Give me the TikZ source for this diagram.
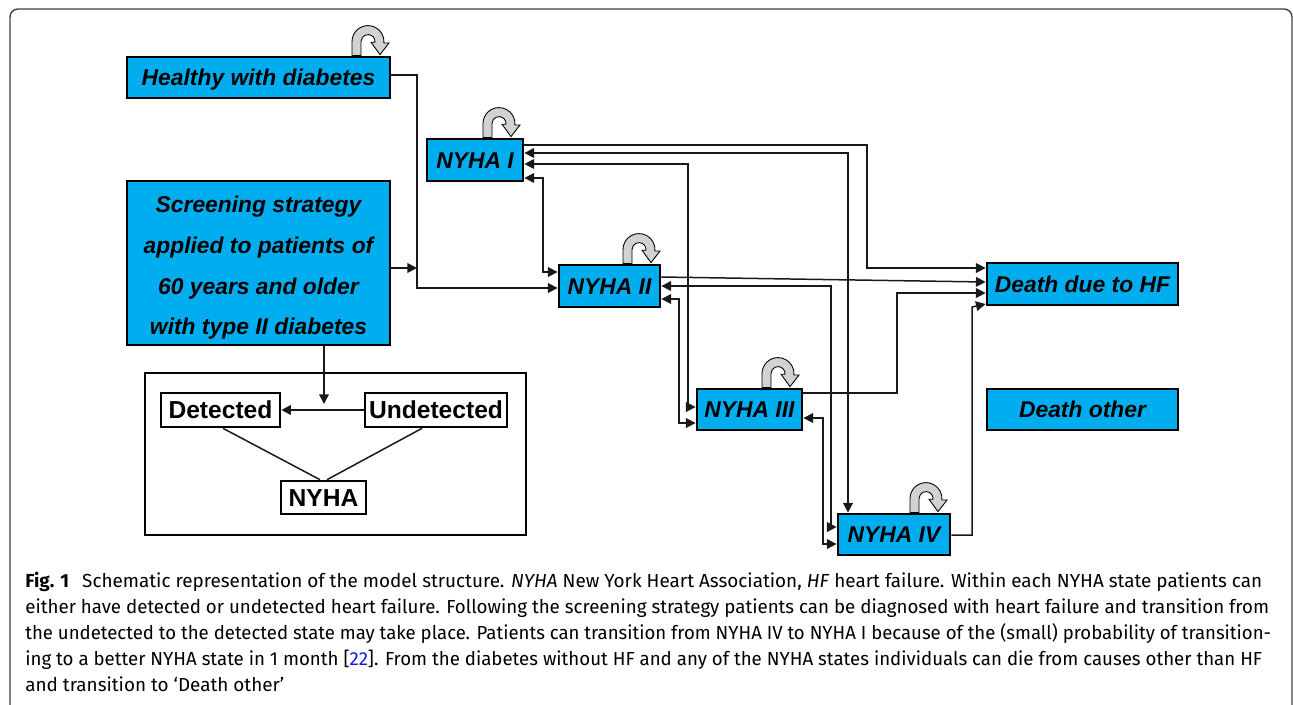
\documentclass[tikz,border=0pt]{standalone}
\usepackage{fontspec}
\usepackage{graphicx}
\setmainfont{Liberation Sans}
\newfontfamily\legende{Fira Sans}
\usetikzlibrary{arrows.meta,positioning}
\definecolor{bleuetat}{RGB}{0,174,239}
\definecolor{renvoi}{RGB}{20,20,230}
\tikzstyle{etat} = [draw, fill=bleuetat, line width=1.6pt, inner sep=0pt, font=\fontsize{13}{15}\selectfont\bfseries\itshape]
\tikzstyle{simple} = [etat, text height=9.4pt, text depth=0pt]
\tikzstyle{sousetat} = [draw, fill=white, line width=1.5pt, inner sep=0pt, text height=10pt, text depth=0pt, font=\fontsize{14}{16}\selectfont\bfseries]
\tikzstyle{lien} = [line width=0.85pt, black!90]
\tikzstyle{ligne} = [anchor=base west, inner sep=0pt, font=\legende\fontsize{10.75}{12}\selectfont]
\newcommand{\ajuste}[2]{\resizebox{#1}{\height}{#2}}
\newcommand{\boucle}[1]{%
  \begin{scope}[shift={(#1)}, x=0.02cm, y=0.02cm]
    \filldraw[fill=gray!35, draw=black, line width=0.5pt] (0,0) -- (0,14)
      arc[start angle=180, end angle=-5, radius=16] -- (37,12.6) -- (28,1)
      -- (19,13.4) -- (22.97,13.4) arc[start angle=-5, end angle=180, radius=7]
      -- (9,0) -- cycle;
  \end{scope}}

\begin{document}
\begin{tikzpicture}[x=0.02cm, y=-0.02cm, >={Triangle[length=5.5pt,width=5.5pt]}]
  \useasboundingbox (0,0) rectangle (1293,704);
  \clip (0,0) rectangle (1293,704);
  \draw[black!75, line width=0.8pt, rounded corners=0.16cm] (10,9) rectangle (1292,760);

  % the states of the model
  \node [simple, minimum width=5.26cm, minimum height=0.82cm] (diabete) at (258.5,77.5) {Healthy with diabetes};
  \node [etat, minimum width=5.26cm, minimum height=3.28cm, align=center,
         font=\fontsize{13}{23.2}\selectfont\bfseries\itshape] (depistage) at (258.5,263)
        {\rule{0pt}{15pt}Screening strategy\\applied to patients of\\60 years and older\\with type II diabetes};
  \node [simple, minimum width=1.92cm, minimum height=0.84cm] (nyhaun) at (475,160) {NYHA I};
  \node [simple, minimum width=2.02cm, minimum height=0.84cm] (nyhadeux) at (609.5,286) {NYHA II};
  \node [simple, minimum width=2.10cm, minimum height=0.82cm] (nyhatrois) at (749.5,409.5) {NYHA III};
  \node [simple, minimum width=2.24cm, minimum height=0.82cm] (nyhaquatre) at (894,534.5) {NYHA IV};
  \node [simple, minimum width=3.82cm, minimum height=0.84cm] (deces) at (1082.5,284) {Death due to HF};
  \node [simple, minimum width=3.82cm, minimum height=0.82cm] (decesautre) at (1082.5,409.5) {Death other};

  % the detected / undetected split inside each NYHA state
  \node [draw, line width=1.6pt, minimum width=7.62cm, minimum height=3.24cm, inner sep=0pt] (cadre) at (335.5,454) {};
  \node [sousetat, minimum width=2.38cm, minimum height=0.68cm] (detecte) at (220.5,410) {Detected};
  \node [sousetat, minimum width=2.84cm, minimum height=0.68cm] (nondetecte) at (436,410) {Undetected};
  \node [sousetat, minimum width=1.70cm, minimum height=0.66cm] (nyha) at (323.5,497.5) {NYHA};
  \coordinate (chute) at (324,404);
  \coordinate (jonction) at (417,268);

  % Once the nodes are placed, connecting them is easy.
  \draw [lien, ->] (depistage.south -| chute) -- (chute);
  \draw [lien, ->] (nondetecte) -- (detecte);
  \draw [lien] (detecte.south -| 223,0) -- (nyha.north -| 320,0);
  \draw [lien] (nondetecte.south -| 422,0) -- (nyha.north -| 327,0);

  \draw [lien, ->] (depistage.east |- jonction) -- (jonction);
  \draw [lien, ->] (diabete.east |- 0,75) -| (417,288) -- (nyhadeux.west |- 0,288);
  \draw [lien, <->] (nyhaun.east |- 0,178) -| (543,272) -- (nyhadeux.west |- 0,272);
  \draw [lien, ->] (nyhaun.east |- 0,145) -| (867,268) -- (deces.west |- 0,268);
  \draw [lien, <->] (nyhaun.east |- 0,153) -| (nyhaquatre.north -| 848,0);
  \draw [lien, <->] (nyhaun.east |- 0,164) -| (688,407) -- (nyhatrois.west |- 0,407);
  \draw [lien, <->] (nyhadeux.east |- 0,299) -| (679,423) -- (nyhatrois.west |- 0,423);
  \draw [lien, ->] (nyhadeux.east |- 0,277) -- (deces.west |- 0,282);
  \draw [lien, <->] (nyhadeux.east |- 0,286) -| (831,527) -- (nyhaquatre.west |- 0,527);
  \draw [lien, ->] (nyhatrois.east |- 0,393) -| (897,293) -- (deces.west |- 0,293);
  \draw [lien, <->] (nyhatrois.east |- 0,418) -| (823,544) -- (nyhaquatre.west |- 0,544);
  \draw [lien, ->] (nyhaquatre.east |- 0,535) -| (972,307) -- (deces.west |- 0,304);

  % staying in the same state
  \boucle{diabete.north -| 352,0}
  \boucle{nyhaun.north -| 483,0}
  \boucle{nyhadeux.north -| 623,0}
  \boucle{nyhatrois.north -| 762,0}
  \boucle{nyhaquatre.north -| 910,0}

  % caption
  \node [ligne] (ligneun) at (25,587) {\ajuste{24.74cm}{\textbf{Fig. 1}\hspace{0.7em}Schematic representation of the model structure. \textit{NYHA} New York Heart Association, \textit{HF} heart failure. Within each NYHA state patients can}};
  \node [ligne] (lignedeux) at (25,613) {\ajuste{24.88cm}{either have detected or undetected heart failure. Following the screening strategy patients can be diagnosed with heart failure and transition from}};
  \node [ligne] (lignetrois) at (25,639) {\ajuste{24.92cm}{the undetected to the detected state may take place. Patients can transition from NYHA IV to NYHA I because of the (small) probability of transition-}};
  \node [ligne] (lignequatre) at (25,665) {\ajuste{24.74cm}{ing to a better NYHA state in 1 month [\textcolor{renvoi}{22}]. From the diabetes without HF and any of the NYHA states individuals can die from causes other than HF}};
  \node [ligne] (lignecinq) at (25,691) {\ajuste{5.18cm}{and transition to ‘Death other’}};
\end{tikzpicture}
\end{document}
